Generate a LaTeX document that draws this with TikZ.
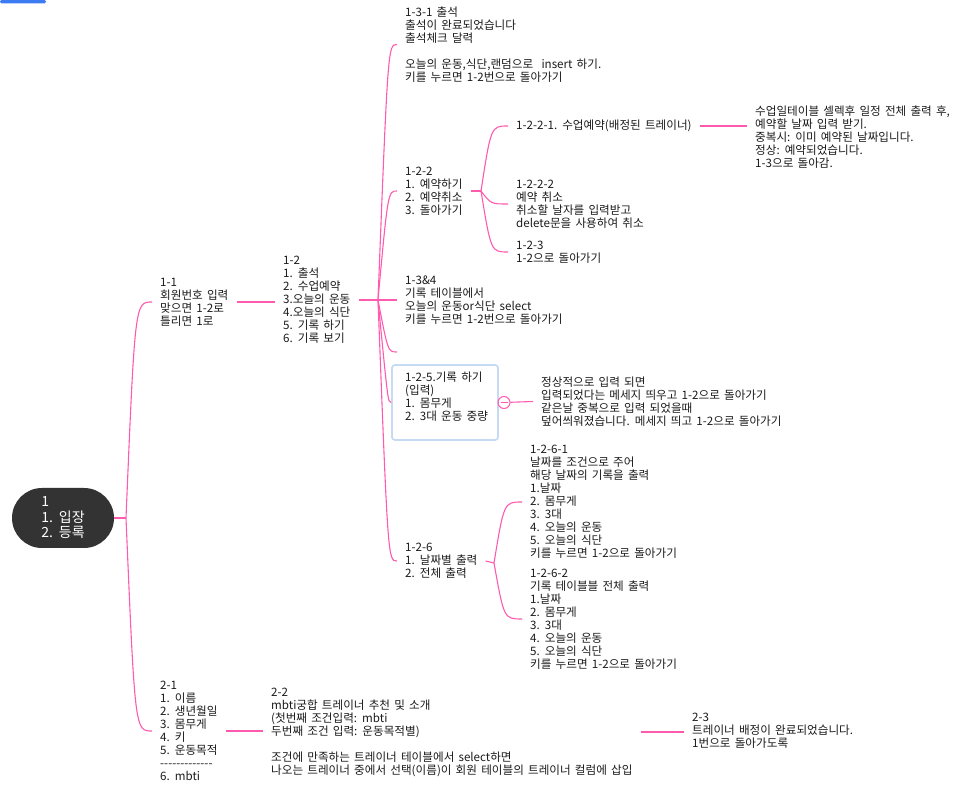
\documentclass[tikz,border=0pt]{standalone}
\usepackage{fontspec}
\setmainfont{Noto Sans CJK KR}[Ligatures=TeXOff,WordSpace=1.6]
\usepackage{tikz}
\usetikzlibrary{calc}
\definecolor{ink}{HTML}{1A1A1A}
\definecolor{twigc}{HTML}{FF5AAE}
\definecolor{rootc}{HTML}{333333}
\definecolor{pickc}{HTML}{C6DAF4}
\definecolor{barc}{HTML}{3D7BF2}

\begin{document}
\begin{tikzpicture}[x=1pt,y=-1pt,
  topic/.style={anchor=west,align=left,inner xsep=8pt,inner ysep=1pt,text=ink,font=\fontsize{11.6}{13}\selectfont},
  rootbox/.style={fill=rootc,text=white,rounded corners=30pt,minimum width=102pt,minimum height=60pt,align=left,font=\fontsize{14}{15.5}\selectfont},
  pickbox/.style={draw=pickc,line width=1.8pt,rounded corners=3pt,minimum width=106pt,minimum height=75pt},
  knob/.style={circle,draw=twigc,fill=white,line width=1pt,minimum size=12pt,inner sep=0pt},
  twig/.style={draw=twigc,line width=1.1pt}]
\useasboundingbox (0,0) rectangle (970,791);
\fill[barc,rounded corners=1.5pt] (0,0) rectangle (46,3.5);
% root and first level
\node[rootbox] (root) at (63,518) {1\\1. 입장\\2. 등록};
\coordinate (j0) at (126,518);
\node[topic] (n11) at (152,302) {1-1\\회원번호 입력\\맞으면 1-2로\\틀리면 1로};
\node[topic] (n21) at (152,731) {2-1\\1. 이름\\2. 생년월일\\3. 몸무게\\4. 키\\5. 운동목적\\-------------\\6. mbti};
% menu 1-2
\node[topic] (n12) at (275,300) {1-2\\1. 출석\\2. 수업예약\\3.오늘의 운동\\4.오늘의 식단\\5. 기록 하기\\6. 기록 보기};
\coordinate (j1) at (378,300);
\node[topic] (n131) at (397,44.5) {1-3-1 출석\\출석이 완료되었습니다\\출석체크 달력\\[13pt]오늘의 운동,식단,랜덤으로\ \ insert 하기.\\키를 누르면 1-2번으로 돌아가기};
\node[topic] (n122) at (397,191) {1-2-2\\1. 예약하기\\2. 예약취소\\3. 돌아가기};
\node[topic] (n134) at (397,300) {1-3\&4\\기록 테이블에서\\오늘의 운동or식단 select\\키를 누르면 1-2번으로 돌아가기};
\coordinate (blank) at (397,352);
\node[pickbox] (n125) at (445,402.5) {};
\node[topic] (n125t) at (397,397) {1-2-5.기록 하기\\(입력)\\1. 몸무게\\2. 3대 운동 중량};
\node[topic] (n126) at (397,561) {1-2-6\\1. 날짜별 출력\\2. 전체 출력};
% 1-2-2
\coordinate (j2) at (481,191);
\node[topic] (n1221) at (508,126) {1-2-2-1. 수업예약(배정된 트레이너)};
\node[topic] (nsched) at (747,137) {수업일테이블 셀렉후 일정 전체 출력 후,\\예약할 날짜 입력 받기.\\중복시: 이미 예약된 날짜입니다.\\정상: 예약되었습니다.\\1-3으로 돌아감.};
\node[topic] (n1222) at (508,204) {1-2-2-2\\예약 취소\\취소할 날자를 입력받고\\delete문을 사용하여 취소};
\node[topic] (n123) at (508,252) {1-2-3\\1-2으로 돌아가기};
% 1-2-5
\node[knob] (knob) at (504,402.5) {};
\node[topic] (n125r) at (533,401.5) {정상적으로 입력 되면\\입력되었다는 메세지 띄우고 1-2으로 돌아가기\\같은날 중복으로 입력 되었을때\\덮어씌워졌습니다. 메세지 띄고 1-2으로 돌아가기};
% 1-2-6
\coordinate (j6) at (494,563);
\node[topic] (n1261) at (522,502) {1-2-6-1\\날짜를 조건으로 주어\\해당 날짜의 기록을 출력\\1.날짜\\2. 몸무게\\3. 3대\\4. 오늘의 운동\\5. 오늘의 식단\\키를 누르면 1-2으로 돌아가기};
\node[topic] (n1262) at (522,619) {1-2-6-2\\기록 테이블블 전체 출력\\1.날짜\\2. 몸무게\\3. 3대\\4. 오늘의 운동\\5. 오늘의 식단\\키를 누르면 1-2으로 돌아가기};
% 2-x
\node[topic] (n22) at (263,732) {2-2\\mbti궁합 트레이너 추천 및 소개\\(첫번째 조건입력: mbti\\두번째 조건 입력: 운동목적별)\\[13pt]조건에 만족하는 트레이너 테이블에서 select하면\\나오는 트레이너 중에서 선택(이름)이 회원 테이블의 트레이너 컬럼에 삽입};
\node[topic] (n23) at (684,731) {2-3\\트레이너 배정이 완료되었습니다.\\1번으로 돌아가도록};
% connectors
\draw[twig] (root.east) -- (j0);
\foreach \kid in {n11,n21}
  \draw[twig] (j0) .. controls ($(j0 |- \kid.west)+(9,0)$) .. (\kid.west);
\draw[twig] (n11.east) -- (n11.east -| n12.west);
\draw[twig] (n12.east |- j1) -- (j1);
\foreach \kid in {n131,n122,n134,n125,n126}
  \draw[twig] (j1) .. controls ($(j1 |- \kid.west)+(10,0)$) .. (\kid.west);
\draw[twig] (j1) .. controls ($(j1 |- blank)+(10,0)$) .. (blank);
\draw[twig] (n122.east) -- (j2);
\foreach \kid in {n1221,n1222,n123}
  \draw[twig] (j2) .. controls ($(j2 |- \kid.west)+(10,0)$) .. (\kid.west);
\draw[twig] (n1221.east) -- (n1221.east -| nsched.west);
\draw[twig] (n125.east) -- (knob);
\draw[twig] (knob) -- (n125r.west);
\draw[twig] ([xshift=3pt]knob.west) -- ([xshift=-3pt]knob.east);
\draw[twig] (n126.east) -- (j6);
\foreach \kid in {n1261,n1262}
  \draw[twig] (j6) .. controls ($(j6 |- \kid.west)+(10,0)$) .. (\kid.west);
\draw[twig] (n21.east) -- (n21.east -| n22.west);
\draw[twig] (n22.east) -- (n22.east -| n23.west);
\end{tikzpicture}
\end{document}
